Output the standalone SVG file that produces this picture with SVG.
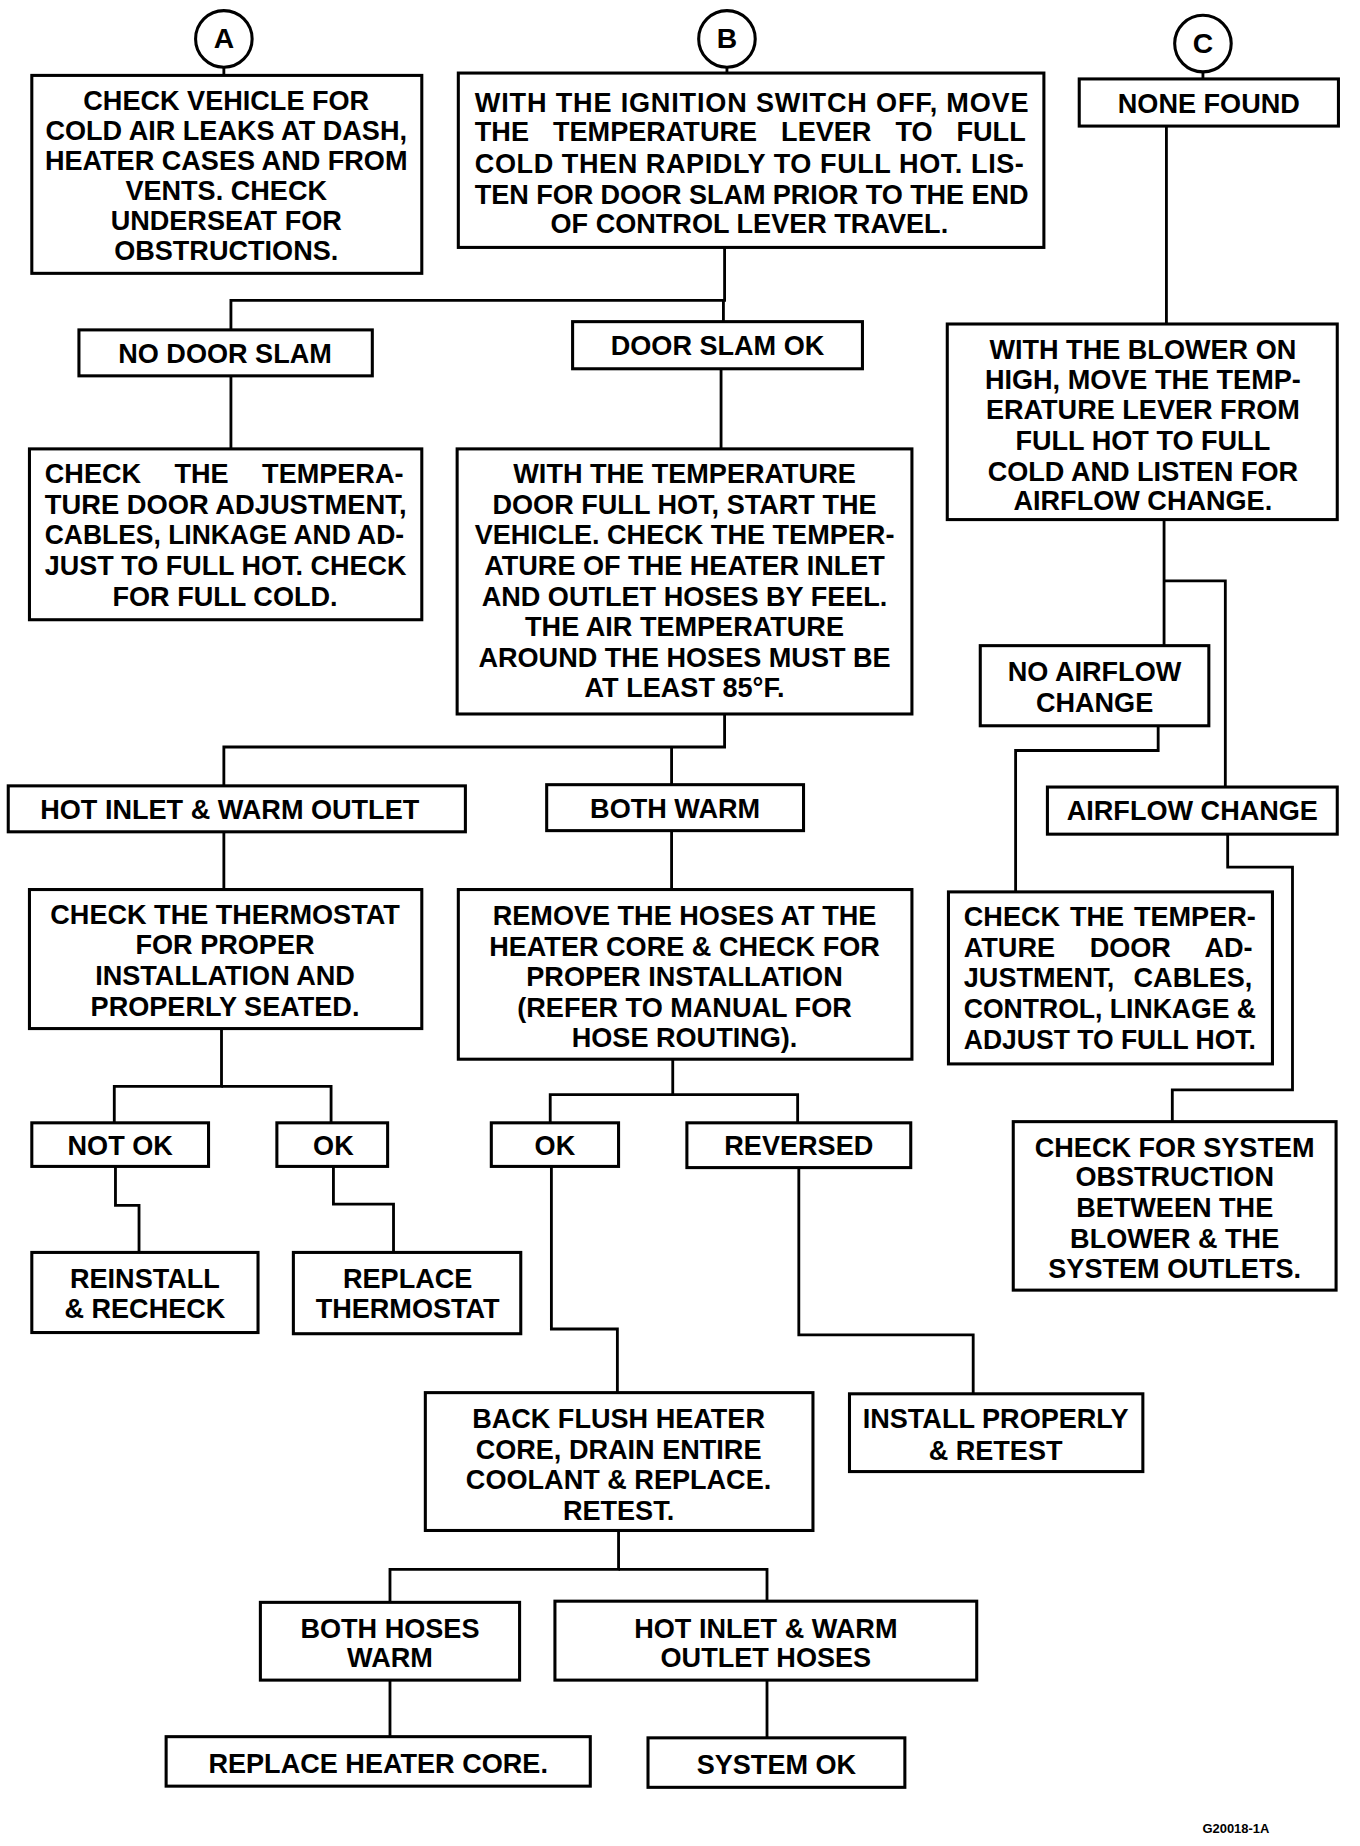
<svg xmlns="http://www.w3.org/2000/svg" width="1360" height="1846" viewBox="0 0 1360 1846">
<style>
.box{fill:#fff;stroke:#000;stroke-width:2.6}
.t{font-family:"Liberation Sans",Arial,sans-serif;font-weight:bold;font-size:23px;text-anchor:middle;fill:#000}
.j{text-anchor:start}
.c{fill:none;stroke:#000;stroke-width:2.4}
.lab{font-family:"Liberation Sans",Arial,sans-serif;font-weight:bold;font-size:24px;text-anchor:middle}
</style>
<rect width="1360" height="1846" fill="#fff"/>
<g transform="scale(1.1782)">
<g id="connectors" class="c">
<path d="M190,57V64"/>
<path d="M617,57V62"/>
<path d="M1021,61V67"/>
<path d="M615,210V255H196V280"/>
<path d="M614,255V273"/>
<path d="M196,319V381"/>
<path d="M612,313V381"/>
<path d="M615,606V634H190V667"/>
<path d="M570,634V666"/>
<path d="M190,706V755"/>
<path d="M570,705V755"/>
<path d="M188,873V922H97V953"/>
<path d="M188,922H281V953"/>
<path d="M571,899V929H467V953"/>
<path d="M571,929H677V953"/>
<path d="M98,990V1023H118V1063"/>
<path d="M283,990V1022H334V1063"/>
<path d="M468,990V1128H524V1182"/>
<path d="M678,991V1133H826V1183"/>
<path d="M525,1299V1332H331V1360"/>
<path d="M525,1332H651V1359"/>
<path d="M331,1426V1474"/>
<path d="M651,1426V1475"/>
<path d="M990,107V275"/>
<path d="M988,441V548"/>
<path d="M988,493H1040V668"/>
<path d="M983,616V637H862V757"/>
<path d="M1042,708V736H1097V925H995V952"/>
</g>

<g id="circleA"><circle cx="190" cy="33" r="24" class="box"/><text x="190" y="41" class="lab">A</text></g>
<g id="circleB"><circle cx="617" cy="33" r="24" class="box"/><text x="617" y="41" class="lab">B</text></g>
<g id="circleC"><circle cx="1021" cy="37" r="24" class="box"/><text x="1021" y="45" class="lab">C</text></g>

<g id="boxA"><rect x="27" y="64" width="331" height="168" class="box"/>
<text class="t"><tspan x="192" y="93">CHECK VEHICLE FOR</tspan><tspan x="192" y="119">COLD AIR LEAKS AT DASH,</tspan><tspan x="192" y="144">HEATER CASES AND FROM</tspan><tspan x="192" y="170">VENTS. CHECK</tspan><tspan x="192" y="195">UNDERSEAT FOR</tspan><tspan x="192" y="221">OBSTRUCTIONS.</tspan></text></g>

<g id="boxB"><rect x="389" y="62" width="497" height="148" class="box"/>
<text class="t j" x="403" y="95" textLength="470" lengthAdjust="spacing">WITH THE IGNITION SWITCH OFF, MOVE</text>
<text class="t j" x="403" y="120" word-spacing="14">THE TEMPERATURE LEVER TO FULL</text>
<text class="t j" x="403" y="147" textLength="466" lengthAdjust="spacing">COLD THEN RAPIDLY TO FULL HOT. LIS-</text>
<text class="t j" x="403" y="173" textLength="470" lengthAdjust="spacing">TEN FOR DOOR SLAM PRIOR TO THE END</text>
<text class="t" x="636" y="198">OF CONTROL LEVER TRAVEL.</text></g>

<g id="noneFound"><rect x="916" y="67" width="220" height="40" class="box"/><text class="t" x="1026" y="96">NONE FOUND</text></g>

<g id="noDoorSlam"><rect x="67" y="280" width="249" height="39" class="box"/><text class="t" x="191" y="308">NO DOOR SLAM</text></g>
<g id="doorSlamOk"><rect x="486" y="273" width="246" height="40" class="box"/><text class="t" x="609" y="301">DOOR SLAM OK</text></g>

<g id="checkTempDoor"><rect x="25" y="381" width="333" height="145" class="box"/>
<text class="t j" x="38" y="410" word-spacing="22">CHECK THE TEMPERA-</text>
<text class="t j" x="38" y="436" textLength="307" lengthAdjust="spacingAndGlyphs">TURE DOOR ADJUSTMENT,</text>
<text class="t j" x="38" y="462" textLength="305" lengthAdjust="spacingAndGlyphs">CABLES, LINKAGE AND AD-</text>
<text class="t j" x="38" y="488" textLength="307" lengthAdjust="spacingAndGlyphs">JUST TO FULL HOT. CHECK</text>
<text class="t" x="191" y="514">FOR FULL COLD.</text></g>

<g id="tempDoorFullHot"><rect x="388" y="381" width="386" height="225" class="box"/>
<text class="t"><tspan x="581" y="410">WITH THE TEMPERATURE</tspan><tspan x="581" y="436">DOOR FULL HOT, START THE</tspan><tspan x="581" y="462">VEHICLE. CHECK THE TEMPER-</tspan><tspan x="581" y="488">ATURE OF THE HEATER INLET</tspan><tspan x="581" y="514">AND OUTLET HOSES BY FEEL.</tspan><tspan x="581" y="540">THE AIR TEMPERATURE</tspan><tspan x="581" y="566">AROUND THE HOSES MUST BE</tspan><tspan x="581" y="592">AT LEAST 85°F.</tspan></text></g>

<g id="hotInletWarmOutlet"><rect x="7" y="667" width="388" height="39" class="box"/><text class="t" x="195" y="695">HOT INLET &amp; WARM OUTLET</text></g>
<g id="bothWarm"><rect x="464" y="666" width="218" height="39" class="box"/><text class="t" x="573" y="694">BOTH WARM</text></g>

<g id="checkThermostat"><rect x="25" y="755" width="333" height="118" class="box"/>
<text class="t"><tspan x="191" y="784">CHECK THE THERMOSTAT</tspan><tspan x="191" y="810">FOR PROPER</tspan><tspan x="191" y="836">INSTALLATION AND</tspan><tspan x="191" y="862">PROPERLY SEATED.</tspan></text></g>

<g id="removeHoses"><rect x="389" y="755" width="385" height="144" class="box"/>
<text class="t"><tspan x="581" y="785">REMOVE THE HOSES AT THE</tspan><tspan x="581" y="811">HEATER CORE &amp; CHECK FOR</tspan><tspan x="581" y="837">PROPER INSTALLATION</tspan><tspan x="581" y="863">(REFER TO MANUAL FOR</tspan><tspan x="581" y="889">HOSE ROUTING).</tspan></text></g>

<g id="notOk"><rect x="27" y="953" width="150" height="37" class="box"/><text class="t" x="102" y="980">NOT OK</text></g>
<g id="ok1"><rect x="235" y="953" width="94" height="37" class="box"/><text class="t" x="283" y="980">OK</text></g>
<g id="ok2"><rect x="417" y="953" width="108" height="37" class="box"/><text class="t" x="471" y="980">OK</text></g>
<g id="reversed"><rect x="583" y="953" width="190" height="38" class="box"/><text class="t" x="678" y="980">REVERSED</text></g>

<g id="reinstall"><rect x="27" y="1063" width="192" height="68" class="box"/>
<text class="t"><tspan x="123" y="1093">REINSTALL</tspan><tspan x="123" y="1119">&amp; RECHECK</tspan></text></g>
<g id="replaceThermostat"><rect x="249" y="1063" width="193" height="69" class="box"/>
<text class="t"><tspan x="346" y="1093">REPLACE</tspan><tspan x="346" y="1119">THERMOSTAT</tspan></text></g>

<g id="backFlush"><rect x="361" y="1182" width="329" height="117" class="box"/>
<text class="t"><tspan x="525" y="1212">BACK FLUSH HEATER</tspan><tspan x="525" y="1238">CORE, DRAIN ENTIRE</tspan><tspan x="525" y="1264">COOLANT &amp; REPLACE.</tspan><tspan x="525" y="1290">RETEST.</tspan></text></g>

<g id="installProperly"><rect x="721" y="1183" width="249" height="66" class="box"/>
<text class="t"><tspan x="845" y="1212">INSTALL PROPERLY</tspan><tspan x="845" y="1239">&amp; RETEST</tspan></text></g>

<g id="bothHosesWarm"><rect x="221" y="1360" width="220" height="66" class="box"/>
<text class="t"><tspan x="331" y="1390">BOTH HOSES</tspan><tspan x="331" y="1415">WARM</tspan></text></g>
<g id="hotInletWarmOutletHoses"><rect x="471" y="1359" width="358" height="67" class="box"/>
<text class="t"><tspan x="650" y="1390">HOT INLET &amp; WARM</tspan><tspan x="650" y="1415">OUTLET HOSES</tspan></text></g>

<g id="replaceHeaterCore"><rect x="141" y="1474" width="360" height="42" class="box"/><text class="t" x="321" y="1505">REPLACE HEATER CORE.</text></g>
<g id="systemOk"><rect x="550" y="1475" width="218" height="42" class="box"/><text class="t" x="659" y="1506">SYSTEM OK</text></g>

<g id="blowerOnHigh"><rect x="804" y="275" width="331" height="166" class="box"/>
<text class="t"><tspan x="970" y="305">WITH THE BLOWER ON</tspan><tspan x="970" y="330">HIGH, MOVE THE TEMP-</tspan><tspan x="970" y="356">ERATURE LEVER FROM</tspan><tspan x="970" y="382">FULL HOT TO FULL</tspan><tspan x="970" y="408">COLD AND LISTEN FOR</tspan><tspan x="970" y="433">AIRFLOW CHANGE.</tspan></text></g>

<g id="noAirflowChange"><rect x="832" y="548" width="194" height="68" class="box"/>
<text class="t"><tspan x="929" y="578">NO AIRFLOW</tspan><tspan x="929" y="604">CHANGE</tspan></text></g>

<g id="airflowChange"><rect x="889" y="668" width="246" height="40" class="box"/><text class="t" x="1012" y="696">AIRFLOW CHANGE</text></g>

<g id="checkTemperDoorAdj"><rect x="805" y="757" width="275" height="146" class="box"/>
<text class="t j" x="818" y="786" word-spacing="2">CHECK THE TEMPER-</text>
<text class="t j" x="818" y="812" word-spacing="23">ATURE DOOR AD-</text>
<text class="t j" x="818" y="838" word-spacing="10">JUSTMENT, CABLES,</text>
<text class="t j" x="818" y="864" textLength="248" lengthAdjust="spacingAndGlyphs">CONTROL, LINKAGE &amp;</text>
<text class="t j" x="818" y="890" textLength="248" lengthAdjust="spacingAndGlyphs">ADJUST TO FULL HOT.</text></g>

<g id="checkSystemObstruction"><rect x="860" y="952" width="274" height="143" class="box"/>
<text class="t"><tspan x="997" y="982">CHECK FOR SYSTEM</tspan><tspan x="997" y="1007">OBSTRUCTION</tspan><tspan x="997" y="1033">BETWEEN THE</tspan><tspan x="997" y="1059">BLOWER &amp; THE</tspan><tspan x="997" y="1085">SYSTEM OUTLETS.</tspan></text></g>

<text x="1049" y="1556" style="font-family:'Liberation Sans',Arial,sans-serif;font-weight:bold;font-size:11px;text-anchor:middle">G20018-1A</text>
</g>
</svg>
